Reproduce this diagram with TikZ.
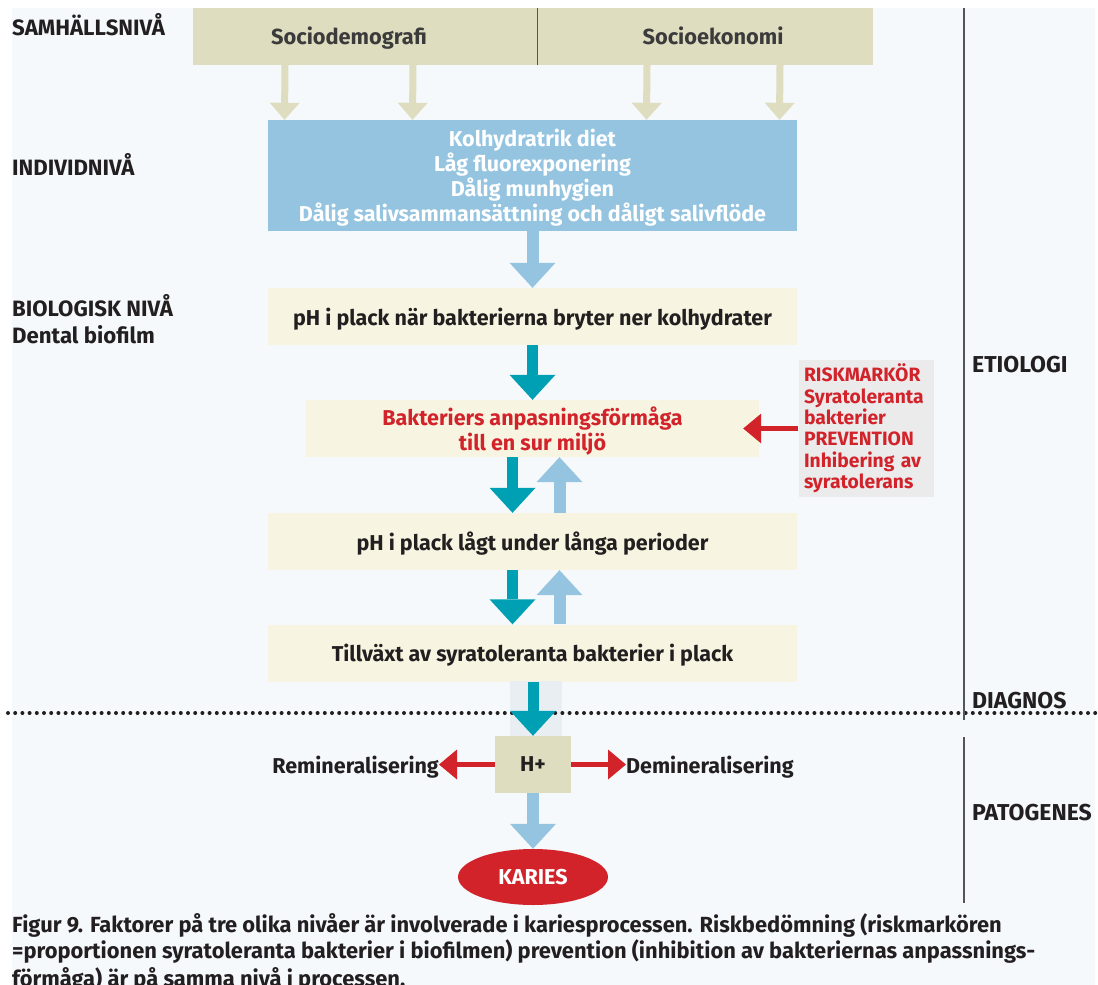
\documentclass[tikz,border=0pt]{standalone}
\usepackage{fontspec}
\setmainfont{Fira Sans}
\usetikzlibrary{arrows.meta,shapes.geometric}
\definecolor{bgc}{HTML}{F5F9FB}
\definecolor{beige}{HTML}{DEDDC0}
\definecolor{skyb}{HTML}{94C4E0}
\definecolor{creamc}{HTML}{F7F5E1}
\definecolor{tealc}{HTML}{00A0B4}
\definecolor{redc}{HTML}{D2232B}
\definecolor{grayb}{HTML}{EBEBEB}
\definecolor{ink}{HTML}{231F20}
\definecolor{inkb}{HTML}{3B3B3B}
\definecolor{bandc}{HTML}{E9EEF3}
\definecolor{rulec}{HTML}{555555}
\begin{document}
\begin{tikzpicture}[x=1pt,y=-1pt,
  font=\bfseries\fontsize{21.5}{25}\selectfont,
  box/.style={rectangle, inner sep=0pt, align=center, text=ink},
  creambox/.style={box, fill=creamc, minimum height=57pt, text depth=0pt},
  lab/.style={anchor=base west, text=ink, inner sep=0pt, font=\bfseries\fontsize{22.2}{26}\selectfont},
  rlab/.style={anchor=base west, text=ink, inner sep=0pt, font=\bfseries\fontsize{23}{26}\selectfont},
  toplab/.style={anchor=base, text=inkb, inner sep=0pt, font=\bfseries\fontsize{21.8}{26}\selectfont},
  capt/.style={anchor=base west, text=ink, inner sep=0pt, font=\bfseries\fontsize{21.9}{26}\selectfont},
  tealarr/.style={draw=tealc, line width=11pt, -{Triangle[width=46pt,length=25pt,line width=0pt]}},
  skyarr/.style={draw=skyb, line width=12pt, -{Triangle[width=46pt,length=25pt,line width=0pt]}},
  beigearr/.style={draw=beige, line width=7pt, -{Triangle[width=30pt,length=17pt,line width=0pt]}},
  redarr/.style={draw=redc, line width=5pt, -{Triangle[width=30pt,length=18pt,line width=0pt]}},
  vrule/.style={draw=rulec, line width=1.2pt}
]
\useasboundingbox (0,0) rectangle (1098,985);
\fill[white] (0,0) rectangle (1098,985);
\fill[bgc] (12,8) rectangle (1095,985);

% top level
\node[box, fill=beige, minimum width=680pt, minimum height=57pt] (top) at (533,36.5) {};
\draw[vrule, line width=1pt] ([xshift=4pt]top.north) -- ([xshift=4pt]top.south);
\node[toplab] (sd) at (349,44.5) {Sociodemografi};
\node[toplab] (se) at (713,44.5) {Socioekonomi};

% individual level
\node[box, fill=skyb, text=white, minimum width=529pt, minimum height=111pt, text depth=0pt] (ind) at (532.5,175.5)
  {Kolhydratrik diet\\Låg fluorexponering\\Dålig munhygien\\Dålig salivsammansättning och dåligt salivflöde};
\foreach \dx in {-248,-120,114,247}
  \draw[beigearr] ([xshift=\dx pt]top.south) -- ([xshift=\dx pt]ind.north);

% biological level
\node[creambox, minimum width=529pt] (ph1) at (532.5,316.5) {pH i plack när bakterierna bryter ner kolhydrater};
\node[creambox, minimum width=453pt, text=redc] (bakt) at (532.5,428.5) {Bakteriers anpasningsförmåga\\till en sur miljö};
\node[box, fill=grayb, text=redc, minimum width=135pt, minimum height=137pt, text width=124pt, align=left,
      font=\bfseries\fontsize{19.3}{21.4}\selectfont] (risk) at (866,428.5)
  {RISKMARKÖR\\Syratoleranta\\bakterier\\PREVENTION\\Inhibering av\\syratolerans};
\node[creambox, minimum width=529pt] (ph2) at (532.5,541.5) {pH i plack lågt under långa perioder};
\node[creambox, minimum width=529pt] (till) at (532.5,653) {Tillväxt av syratoleranta bakterier i plack};

\draw[skyarr] (ind.south) -- (ph1.north);
\draw[tealarr] (ph1.south) -- (bakt.north);
\draw[redarr] (risk.west) -- ([xshift=-16pt]bakt.east);
\draw[tealarr] ([xshift=-20pt]bakt.south) -- ([xshift=-20pt]ph2.north);
\draw[skyarr] ([xshift=27pt]ph2.north) -- ([xshift=27pt]bakt.south);
\draw[tealarr] ([xshift=-20pt]ph2.south) -- ([xshift=-20pt]till.north);
\draw[skyarr] ([xshift=27pt]till.north) -- ([xshift=27pt]ph2.south);

% pathogenesis
\node[box, fill=beige, minimum width=76pt, minimum height=57pt] (hplus) at (533,764.5) {H+};
\node[ellipse, fill=redc, text=white, inner sep=0pt, minimum width=150pt, minimum height=56pt] (karies) at (533,877) {KARIES};
\node[anchor=base east, text=ink, inner sep=0pt] (remin) at (439,773) {Remineralisering};
\node[anchor=base west, text=ink, inner sep=0pt] (demin) at (626,773) {Demineralisering};

\fill[bandc] (510,681) rectangle (562,736);
\draw[ink, line width=4pt, dash pattern=on 0pt off 7.2pt, line cap=round] (8,713) -- (1098,713);
\draw[tealarr] ([xshift=0.5pt]till.south) -- (hplus.north);
\draw[redarr] (hplus.west) -- (remin.east |- hplus.west);
\draw[redarr] (hplus.east) -- (demin.west |- hplus.east);
\draw[skyarr] (hplus.south) -- (karies.north);

% left labels
\node[lab] (l1) at (12,35) {SAMHÄLLSNIVÅ};
\node[lab] (l2) at (12,175) {INDIVIDNIVÅ};
\node[lab] (l3) at (12,316) {BIOLOGISK NIVÅ};
\node[lab] (l4) at (12,343) {Dental biofilm};

% right labels
\draw[vrule] (964,8) -- (964,720);
\draw[vrule] (964,737) -- (964,903);
\node[rlab] (r1) at (972,372) {ETIOLOGI};
\node[rlab] (r2) at (972,708) {DIAGNOS};
\node[rlab] (r3) at (972,820) {PATOGENES};

% caption
\node[capt] (c1) at (12,932) {Figur 9. Faktorer på tre olika nivåer är involverade i kariesprocessen. Riskbedömning (riskmarkören};
\node[capt] (c2) at (12,958) {=proportionen syratoleranta bakterier i biofilmen) prevention (inhibition av bakteriernas anpassnings-};
\node[capt] (c3) at (12,986) {förmåga) är på samma nivå i processen.};
\end{tikzpicture}
\end{document}
